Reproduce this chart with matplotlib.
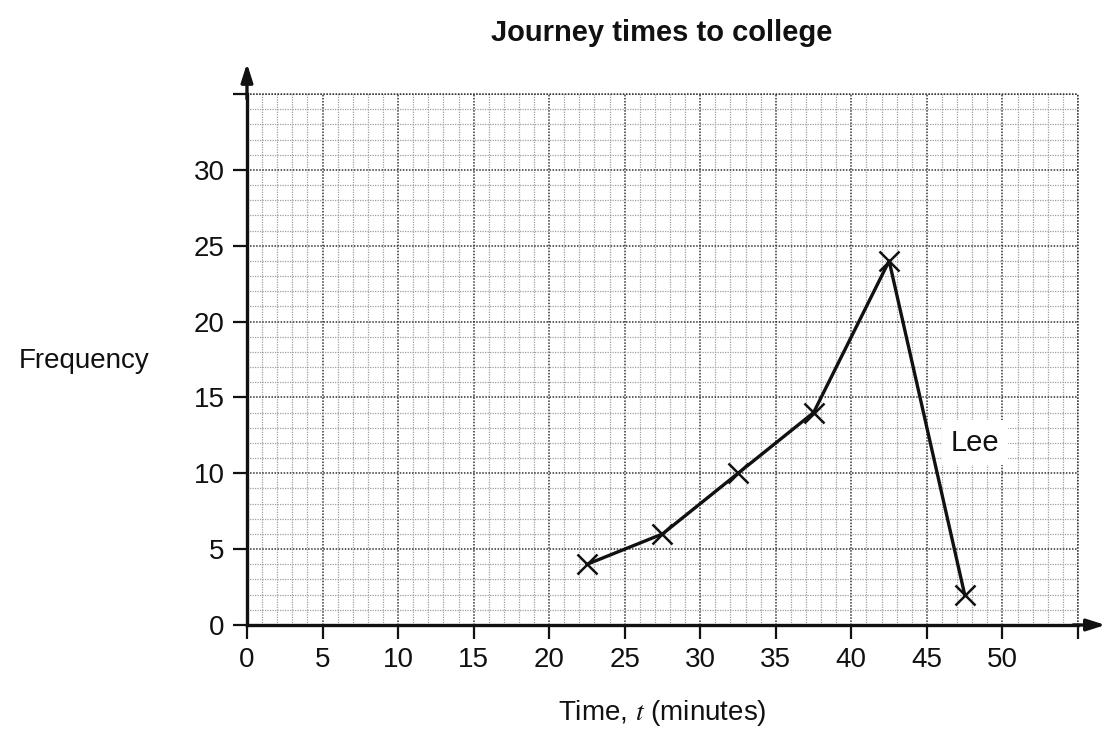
import numpy as np
import matplotlib.pyplot as plt
from matplotlib.ticker import MultipleLocator

# Frequency polygon data (midpoints of time classes)
time_mid = [22.5, 27.5, 32.5, 37.5, 42.5, 47.5]
frequency = [4, 6, 10, 14, 24, 2]
x_ticks = list(range(0, 56, 5))
x_labels = [str(v) for v in range(0, 51, 5)] + [""]
y_ticks = list(range(0, 36, 5))
y_labels = [str(v) for v in range(0, 31, 5)] + [""]

plt.rcParams['font.family'] = ['Liberation Sans', 'DejaVu Sans']
plt.rcParams['mathtext.fontset'] = 'stix'

fig = plt.figure(figsize=(11.11, 7.42), dpi=100)
ax = fig.add_axes([0.2223, 0.1577, 0.748, 0.7156])

ax.set_xlim(0, 55)
ax.set_ylim(0, 35)

# graph paper grid
ax.xaxis.set_minor_locator(MultipleLocator(1))
ax.yaxis.set_minor_locator(MultipleLocator(1))
ax.set_xticks(x_ticks)
ax.set_xticklabels(x_labels)
ax.set_yticks(y_ticks)
ax.set_yticklabels(y_labels)
ax.grid(which='minor', color='#a0a0a0', linestyle=(0, (1, 1)), linewidth=0.9)
ax.grid(which='major', color='#333333', linestyle=(0, (1, 1)), linewidth=1.1)
ax.set_axisbelow(True)

# dotted border on top and right
ax.spines['top'].set_visible(False)
ax.spines['right'].set_visible(False)
ax.axhline(35, color='#333333', linestyle=(0, (1, 1)), linewidth=1.1, clip_on=False)
ax.axvline(55, color='#333333', linestyle=(0, (1, 1)), linewidth=1.1, clip_on=False)

for s in ['left', 'bottom']:
    ax.spines[s].set_linewidth(2.4)
    ax.spines[s].set_color('#111111')

ax.tick_params(which='major', direction='out', length=10, width=1.6,
               labelsize=20, colors='#111111', pad=6)
ax.tick_params(which='minor', length=0)

# axis arrows
ax.annotate('', xy=(0, 37.2), xytext=(0, 34.5), xycoords='data',
            arrowprops=dict(arrowstyle='-|>,head_length=1.1,head_width=0.35',
                            color='#111111', lw=2.4), annotation_clip=False)
ax.annotate('', xy=(57.0, 0), xytext=(54.5, 0), xycoords='data',
            arrowprops=dict(arrowstyle='-|>,head_length=1.1,head_width=0.35',
                            color='#111111', lw=2.4), annotation_clip=False)

ax.plot(time_mid, frequency, color='#111111', linewidth=2.4,
        marker='x', markersize=14, markeredgewidth=1.8, clip_on=False, zorder=5)

ax.text(48.2, 12.0, 'Lee', fontsize=21, ha='center', va='center',
        color='#111111', zorder=6,
        bbox=dict(facecolor='white', edgecolor='none', pad=6))

fig.text(0.596, 0.955, 'Journey times to college', fontsize=21, fontweight='bold',
         ha='center', va='center', color='#111111')
fig.text(0.0756, 0.514, 'Frequency', fontsize=20, ha='center', va='center',
         color='#111111')
fig.text(0.596, 0.039, r'Time, $t$ (minutes)', fontsize=20, ha='center', va='center',
         color='#111111')

fig.savefig('out.png', dpi=100)
